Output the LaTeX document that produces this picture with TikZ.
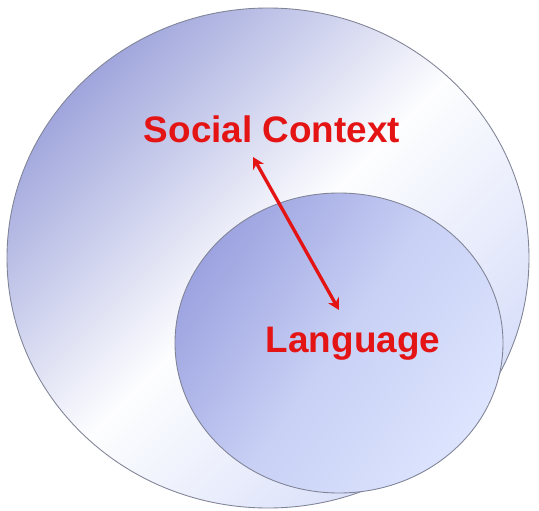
\documentclass[tikz,border=0pt]{standalone}
\usepackage{fontspec}
\setmainfont{Liberation Sans}
\usepackage{xcolor}
\usepackage{tikz}
\usetikzlibrary{calc,arrows.meta}

\definecolor{ringdark}{RGB}{160,166,220}
\definecolor{ringend}{RGB}{214,221,249}
\definecolor{innerdark}{RGB}{156,163,224}
\definecolor{innerlight}{RGB}{220,228,254}
\definecolor{rimgray}{RGB}{128,132,150}
\definecolor{labelred}{RGB}{228,20,20}

\tikzset{
    rim/.style={draw=rimgray, line width=0.5pt},
    lbl/.style={text=labelred, font=\bfseries\fontsize{21}{25}\selectfont, inner sep=0pt, anchor=base},
    link/.style={labelred, line width=1.9pt, {Stealth[length=6.5pt,width=7pt]}-{Stealth[length=6.5pt,width=7pt]}}
}

\begin{document}
\begin{tikzpicture}[x=0.02cm, y=-0.02cm]
    \useasboundingbox (0,0) rectangle (539,511);
    % outer circle and inner circle
    \draw[rim, top color=ringdark, bottom color=ringend, middle color=white!96!ringend, shading angle=45]
        (268,258) ellipse [x radius=261, y radius=250];
    \draw[rim, top color=innerdark, bottom color=innerlight, middle color=innerlight!70!innerdark, shading angle=55]
        (339,343) ellipse [x radius=164, y radius=150];
    % labels
    \node[lbl] (context) at (272,142) {Social Context};
    \node[lbl] (language) at (353,352) {Language};
    % arrow between the two
    \coordinate (ctxend) at (253,157);
    \coordinate (langend) at (339,310);
    \draw[link] (ctxend) -- (langend);
\end{tikzpicture}
\end{document}
